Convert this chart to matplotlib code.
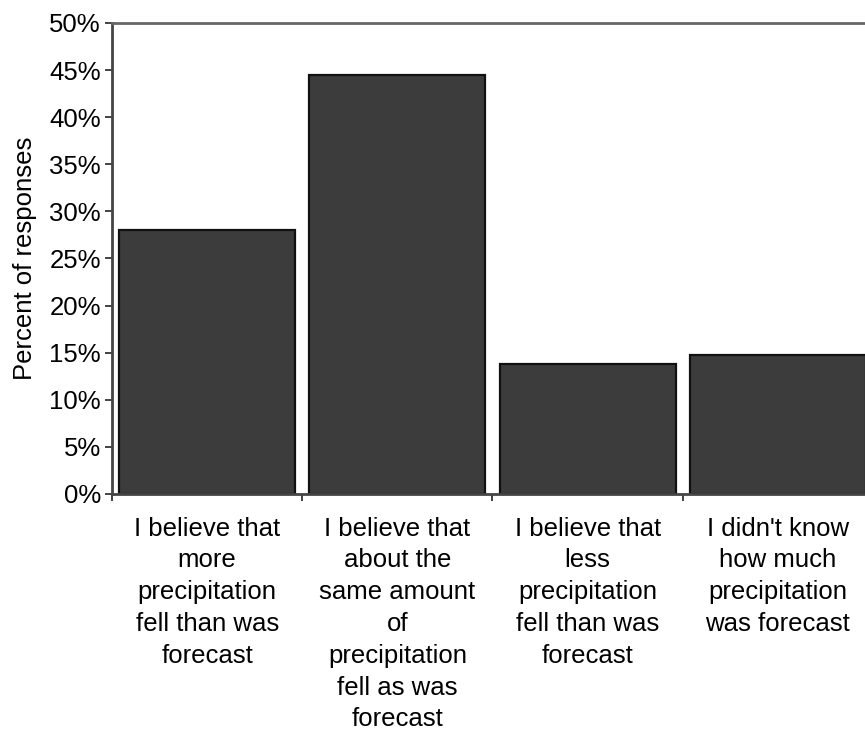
import matplotlib
matplotlib.use("Agg")
import matplotlib.pyplot as plt
from matplotlib.ticker import FuncFormatter

plt.rcParams['font.family'] = ['Liberation Sans', 'DejaVu Sans']

categories = [
    "I believe that\nmore\nprecipitation\nfell than was\nforecast",
    "I believe that\nabout the\nsame amount\nof\nprecipitation\nfell as was\nforecast",
    "I believe that\nless\nprecipitation\nfell than was\nforecast",
    "I didn't know\nhow much\nprecipitation\nwas forecast",
]
percent = [28.0, 44.5, 13.8, 14.8]
y_ticks = [0, 5, 10, 15, 20, 25, 30, 35, 40, 45, 50]

FS = 18.5

fig = plt.figure(figsize=(8.65, 7.34), dpi=100)
ax = fig.add_axes([0.1295, 0.327, 0.8797, 0.6417])

x = range(len(categories))
ax.bar(x, percent, width=0.925, color='#3c3c3c', edgecolor='#111111', linewidth=1.6)

ax.set_xlim(-0.5, len(categories) - 0.5)
ax.set_ylim(0, 50)
ax.set_yticks(y_ticks)
ax.yaxis.set_major_formatter(FuncFormatter(lambda v, p: f"{v:.0f}%"))
ax.set_xticks([i + 0.5 for i in range(-1, len(categories))])
ax.set_xticklabels([])
ax.tick_params(axis='y', direction='out', length=5, width=1.2, labelsize=FS, pad=3,
               colors='#222222', labelcolor='black')
ax.tick_params(axis='x', direction='out', length=5, width=1.2, colors='#222222')

for i, label in enumerate(categories):
    ax.text(i, -2.4, label, ha='center', va='top', fontsize=FS, linespacing=1.41)

ax.set_ylabel("Percent of responses", fontsize=FS, labelpad=9)

for side in ['left', 'bottom', 'top']:
    ax.spines[side].set_linewidth(2)
    ax.spines[side].set_color('#444444')
ax.spines['top'].set_color('#666666')
ax.spines['right'].set_visible(False)

fig.savefig("out.png", dpi=100)
